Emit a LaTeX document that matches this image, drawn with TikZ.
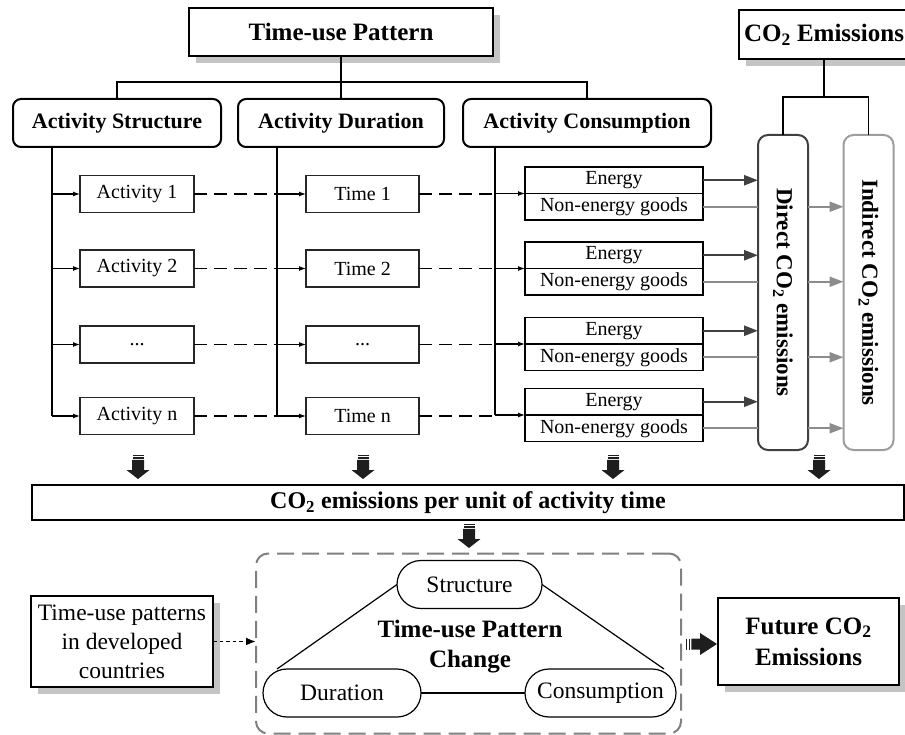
\documentclass[tikz,border=0pt]{standalone}
\usepackage{fontspec}
\setmainfont{Liberation Serif}
\usetikzlibrary{arrows.meta,backgrounds,calc}
\definecolor{dgray}{HTML}{404040}
\definecolor{lgray}{HTML}{8C8C8C}
\definecolor{shadowc}{HTML}{C4C4C4}
\definecolor{arrc}{HTML}{1E1E1E}
\tikzset{
  every node/.style={inner sep=0pt, outer sep=0pt},
  smallbox/.style={draw=black!85, line width=1.1pt, fill=white, minimum width=114pt, minimum height=37pt, font=\fontsize{20}{24}\selectfont},
  hdrbox/.style={draw=black, line width=2pt, rounded corners=8pt, fill=white, minimum height=48pt, font=\bfseries\fontsize{22}{26}\selectfont},
  ttlbox/.style={draw=black, line width=1.3pt, fill=white, font=\bfseries\fontsize{25}{30}\selectfont},
  cbox/.style={draw=black, line width=1.1pt, fill=white, minimum width=178pt, minimum height=26.5pt, font=\fontsize{20}{24}\selectfont},
  emisbox/.style={line width=2pt, rounded corners=10pt, fill=white, minimum width=315pt, minimum height=50pt, rotate=-90, font=\bfseries\fontsize{23}{27}\selectfont},
  pillbox/.style={draw=black, line width=1.2pt, rounded corners=24pt, fill=white, minimum height=48pt, font=\fontsize{23.5}{28}\selectfont},
  conn/.style={line width=1.2pt},
  treeline/.style={line width=1.6pt},
  tipa/.style={-{Latex[length=7pt,width=5pt]}},
  tipb/.style={-{Triangle[length=14pt,width=10pt]}},
  dashc/.style={line width=1.8pt, dash pattern=on 13pt off 7pt},
  sdown/.pic={
    \fill[arrc] (-5.5,0) rectangle (5.5,1.2);
    \fill[arrc] (-5.5,2.4) rectangle (5.5,3.6);
    \fill[arrc] (-6,4.8) -- (6,4.8) -- (6,15) -- (11.5,15) -- (0,24) -- (-11.5,15) -- (-6,15) -- cycle;
  },
  sright/.pic={
    \fill[arrc] (0,-5.5) rectangle (1.3,5.5);
    \fill[arrc] (2.7,-5.5) rectangle (4,5.5);
    \fill[arrc] (5.4,-5.5) -- (14,-5.5) -- (14,-11) -- (31,0) -- (14,11) -- (14,5.5) -- (5.4,5.5) -- cycle;
  }
}
\begin{document}
\begin{tikzpicture}[x=1pt,y=-1pt]
\useasboundingbox (0,0) rectangle (905,735);

% top headers
\node[ttlbox, minimum width=304pt, minimum height=48pt] (tup) at (341,32) {Time-use Pattern};
\node[ttlbox, minimum width=170pt, minimum height=49pt] (co2) at (824,34.5) {CO\textsubscript{2} Emissions};

\node[hdrbox, minimum width=208pt] (as) at (117,123) {Activity Structure};
\node[hdrbox, minimum width=206pt] (ad) at (341,123) {Activity Duration};
\node[hdrbox, minimum width=248pt] (ac) at (587,123) {Activity Consumption};

\coordinate (j1) at (341,82);
\draw[treeline] (tup.south) -- (ad.north);
\draw[treeline] (as.north) -- (as.north |- j1) -- (ac.north |- j1) -- (ac.north);

% emissions boxes (rotated: west = top, south = left side, north = right side)
\node[emisbox, draw=dgray] (dir) at (783,292.5) {Direct CO\textsubscript{2} emissions};
\node[emisbox, draw=lgray!85] (ind) at (868.5,292.5) {Indirect CO\textsubscript{2} emissions};
\coordinate (j2) at (824,97);
\draw[treeline] (co2.south) -- (j2);
\draw[treeline] (dir.west) -- (dir.west |- j2) -- (ind.west |- j2) -- (ind.west);

% activity / time / consumption rows
\coordinate (sl) at (52,147);
\coordinate (dl) at (277,147);
\coordinate (cl) at (495,147);
\node[smallbox] (a1) at (137,194) {Activity 1};
\node[smallbox] (a2) at (137,268.5) {Activity 2};
\node[smallbox] (a3) at (137,344.5) {...};
\node[smallbox] (a4) at (137,416) {Activity n};
\node[smallbox, minimum width=113pt] (t1) at (362.5,194) {Time 1};
\node[smallbox, minimum width=113pt] (t2) at (362.5,268.5) {Time 2};
\node[smallbox, minimum width=113pt] (t3) at (362.5,344.5) {...};
\node[smallbox, minimum width=113pt] (t4) at (362.5,416) {Time n};

\foreach \i/\y in {1/193.5,2/268.5,3/344,4/415}{
  \node[cbox, anchor=south] (e\i) at (614,\y) {Energy};
  \node[cbox, anchor=north] (n\i) at (614,\y) {Non-energy goods};
  \draw[dgray, line width=2.4pt, tipb] (e\i.east) -- (dir.south |- e\i.east);
  \draw[lgray, line width=2pt] (n\i.east) -- (dir.south |- n\i.east);
  \draw[lgray, line width=2pt, tipb] (dir.north |- n\i.east) -- (ind.south |- n\i.east);
  \draw[conn, tipa] (cl |- n\i.north) -- (n\i.north west);
}

\draw[conn] (sl) -- (sl |- a4);
\draw[conn] (dl) -- (dl |- t4);
\draw[conn] (cl) -- (cl |- n4.north);
\foreach \i in {1,2,3,4}{
  \draw[conn, tipa] (sl |- a\i) -- (a\i.west);
  \draw[conn, tipa] (dl |- t\i) -- (t\i.west);
  \draw[dashc] (a\i.east) -- (dl |- a\i);
  \draw[dashc] (t\i.east) -- (cl |- t\i);
}

% block arrows down
\pic at (138,455) {sdown};
\pic at (363,455) {sdown};
\pic at (613,455) {sdown};
\pic at (819,455) {sdown};

\node[draw=black, line width=1.3pt, minimum width=872pt, minimum height=35pt, font=\bfseries\fontsize{24}{28}\selectfont] (wide) at (468,502.5) {CO\textsubscript{2} emissions per unit of activity time};

\pic at (469,524) {sdown};

% change box
\node[draw=black!50, line width=2pt, dash pattern=on 17pt off 8pt, rounded corners=12pt, minimum width=425pt, minimum height=180pt] (chg) at (468.5,643.5) {};
\node[pillbox, minimum width=145pt] (str) at (469.5,584.5) {Structure};
\node[pillbox, minimum width=158pt] (dur) at (342,693) {Duration};
\node[pillbox, minimum width=151pt] (con) at (600.5,693) {Consumption};
\draw[conn] (str.west) -- ([xshift=14pt]dur.north west);
\draw[conn] (str.east) -- ([xshift=-12pt]con.north east);
\draw[conn] (dur.east) -- (con.west);
\node[align=center, font=\bfseries\fontsize{25}{30}\selectfont] (chgt) at (470,647) {Time-use Pattern\\Change};

\node[ttlbox, font=\fontsize{23.5}{29}\selectfont, align=center, minimum width=182pt, minimum height=91pt] (dev) at (122,641.5) {Time-use patterns\\in developed\\countries};
\draw[line width=1.8pt, dash pattern=on 3.5pt off 3pt, -{Latex[length=10pt,width=8pt]}] (dev.east) -- (chg.west |- dev.east);

\node[ttlbox, align=center, minimum width=181pt, minimum height=87pt, font=\bfseries\fontsize{25}{31}\selectfont] (fut) at (808.5,641.5) {Future CO\textsubscript{2}\\Emissions};
\pic at (686,644) {sright};

\begin{scope}[on background layer]
  \foreach \n in {tup,co2,dev,fut}
    \fill[shadowc] ([shift={(7,7)}]\n.north west) rectangle ([shift={(7,7)}]\n.south east);
\end{scope}
\end{tikzpicture}
\end{document}
